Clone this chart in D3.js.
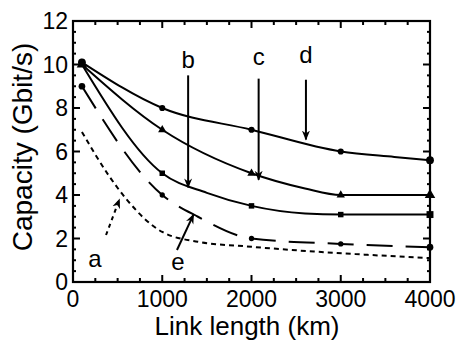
<!DOCTYPE html>
<html>
<head>
<meta charset="utf-8">
<script src="https://cdn.jsdelivr.net/npm/d3@7"></script>
<style>
  body { margin: 0; background: #fff; }
  text { font-family: "Liberation Sans", Arial, sans-serif; fill: #000; }
</style>
</head>
<body>
<div id="chart"></div>
<script>
// curves: [link length km, capacity Gbit/s]
const curveD = [[100, 10.1], [1000, 8.0], [2000, 7.0], [3000, 6.0], [3600, 5.75], [4000, 5.6]];
const curveC = [[100, 10.0], [1000, 7.0], [2000, 5.0], [2600, 4.3], [3000, 4.0], [4000, 4.0]];
const curveB = [[100, 10.0], [1000, 5.0], [1500, 4.1], [2000, 3.5], [2600, 3.15], [3000, 3.1], [4000, 3.1]];
const curveE = [[100, 9.0], [1000, 4.0], [1400, 3.0], [2000, 2.0], [3000, 1.75], [4000, 1.6]];
const curveA = [[100, 6.9], [400, 4.9], [600, 3.8], [1000, 2.3], [1400, 1.85], [2000, 1.62], [2700, 1.4], [3300, 1.25], [4000, 1.1]];

const markD = [100, 1000, 2000, 3000, 4000];
const markC = [100, 1000, 2000, 3000, 4000];
const markB = [1000, 2000, 3000, 4000];
const markE = [100, 1000, 2000, 3000, 4000];

const xTicks = [0, 1000, 2000, 3000, 4000];
const yTicks = [0, 2, 4, 6, 8, 10, 12];

// arrows: label, label pos, arrow from -> to (data units)
const notes = [
  { label: 'b', lx: 1290, ly: 9.85, x1: 1290, y1: 9.5, x2: 1290, y2: 4.35, dash: null },
  { label: 'c', lx: 2080, ly: 9.98, x1: 2080, y1: 9.35, x2: 2080, y2: 4.7, dash: null },
  { label: 'd', lx: 2610, ly: 10.07, x1: 2610, y1: 9.3, x2: 2610, y2: 6.55, dash: null },
  { label: 'a', lx: 246, ly: 0.69, x1: 370, y1: 2.16, x2: 520, y2: 3.8, dash: '4,4' },
  { label: 'e', lx: 1176, ly: 0.55, x1: 1165, y1: 1.47, x2: 1350, y2: 3.1, dash: null }
];

const width = 461;
const height = 344;
const margin = { top: 21, right: 31, bottom: 62, left: 73 };

const svg = d3.select('#chart')
  .append('svg')
  .attr('width', width)
  .attr('height', height);

const x = d3.scaleLinear()
  .domain([0, 4000])
  .range([margin.left, width - margin.right]);

const y = d3.scaleLinear()
  .domain([0, 12])
  .range([height - margin.bottom, margin.top]);

svg.append('defs').append('marker')
  .attr('id', 'head')
  .attr('viewBox', '0 0 10 10')
  .attr('refX', 9).attr('refY', 5)
  .attr('markerUnits', 'userSpaceOnUse')
  .attr('markerWidth', 10).attr('markerHeight', 10)
  .attr('orient', 'auto')
  .append('path')
  .attr('d', 'M0,1 L10,5 L0,9 L3,5 Z')
  .attr('fill', '#000');

// frame ticks (inside), minor every 250 km / 0.5 Gbit/s
const xMinor = d3.range(0, 4001, 250);
const yMinor = d3.range(0, 12.01, 0.5);

const tickG = svg.append('g').attr('stroke', '#000').attr('stroke-width', 2);
xMinor.forEach(v => {
  const len = v % 1000 === 0 ? 7 : 4;
  tickG.append('line').attr('x1', x(v)).attr('x2', x(v))
    .attr('y1', y(0)).attr('y2', y(0) - len);
  tickG.append('line').attr('x1', x(v)).attr('x2', x(v))
    .attr('y1', y(12)).attr('y2', y(12) + len);
});
yMinor.forEach(v => {
  const len = v % 2 === 0 ? 7 : 3;
  tickG.append('line').attr('x1', x(0)).attr('x2', x(0) + len)
    .attr('y1', y(v)).attr('y2', y(v));
  tickG.append('line').attr('x1', x(4000)).attr('x2', x(4000) - len)
    .attr('y1', y(v)).attr('y2', y(v));
});

svg.append('rect')
  .attr('x', x(0)).attr('y', y(12))
  .attr('width', x(4000) - x(0)).attr('height', y(0) - y(12))
  .attr('fill', 'none').attr('stroke', '#000').attr('stroke-width', 2.2);

// tick labels
svg.append('g').selectAll('text')
  .data(xTicks)
  .join('text')
  .attr('x', d => x(d))
  .attr('y', 307)
  .attr('text-anchor', 'middle')
  .attr('font-size', 23)
  .text(d => d);

svg.append('g').selectAll('text')
  .data(yTicks)
  .join('text')
  .attr('x', 68)
  .attr('y', d => y(d) + 8)
  .attr('text-anchor', 'end')
  .attr('font-size', 23)
  .text(d => d);

svg.append('text')
  .attr('x', 247).attr('y', 335)
  .attr('text-anchor', 'middle')
  .attr('font-size', 26)
  .text('Link length (km)');

svg.append('text')
  .attr('transform', 'translate(32,147) rotate(-90)')
  .attr('text-anchor', 'middle')
  .attr('font-size', 28)
  .text('Capacity (Gbit/s)');

// curves
const line = d3.line()
  .x(d => x(d[0]))
  .y(d => y(d[1]))
  .curve(d3.curveMonotoneX);

const series = [
  { pts: curveD, dash: null },
  { pts: curveC, dash: null },
  { pts: curveB, dash: null },
  { pts: curveE, dash: '26,13' },
  { pts: curveA, dash: '5,4' }
];

svg.append('g').selectAll('path')
  .data(series)
  .join('path')
  .attr('d', d => line(d.pts))
  .attr('fill', 'none')
  .attr('stroke', '#000')
  .attr('stroke-width', 2)
  .attr('stroke-dasharray', d => d.dash);

function valueAt(pts, v) {
  const p = pts.find(q => q[0] === v);
  return p ? p[1] : null;
}

function drawMarks(pts, at, type, size) {
  svg.append('g').selectAll('path')
    .data(at)
    .join('path')
    .attr('transform', d => `translate(${x(d)},${y(valueAt(pts, d))})`)
    .attr('d', (d, i) => d3.symbol().type(type).size(i === at.length - 1 || d === 100 ? size * 1.6 : size)())
    .attr('fill', '#000');
}

drawMarks(curveD, markD, d3.symbolCircle, 30);
drawMarks(curveC, markC, d3.symbolTriangle, 30);
drawMarks(curveB, markB, d3.symbolSquare, 30);
drawMarks(curveE, markE, d3.symbolCircle, 22);

// annotations
const noteG = svg.append('g');
noteG.selectAll('line')
  .data(notes)
  .join('line')
  .attr('x1', d => x(d.x1)).attr('y1', d => y(d.y1))
  .attr('x2', d => x(d.x2)).attr('y2', d => y(d.y2))
  .attr('stroke', '#000')
  .attr('stroke-width', 2)
  .attr('stroke-dasharray', d => d.dash)
  .attr('marker-end', 'url(#head)');

noteG.selectAll('text')
  .data(notes)
  .join('text')
  .attr('x', d => x(d.lx))
  .attr('y', d => y(d.ly))
  .attr('text-anchor', 'middle')
  .attr('font-size', 24)
  .text(d => d.label);
</script>
</body>
</html>
